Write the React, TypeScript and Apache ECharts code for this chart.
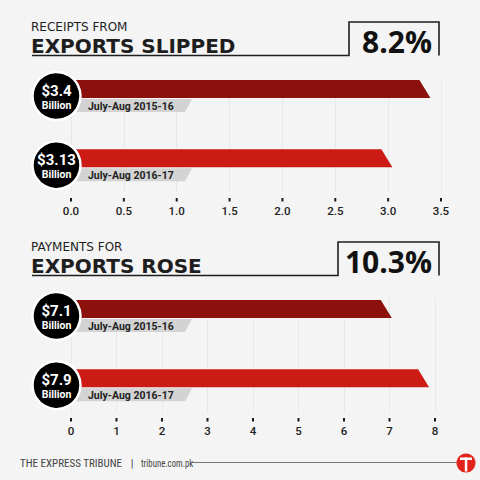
import { useEffect, useRef } from "react";
import * as echarts from "echarts";

// ---- data ----
const periods = ["July-Aug 2015-16", "July-Aug 2016-17"];
const receiptValues = [3.4, 3.04];
const receiptLabels = ["$3.4", "$3.13"];
const paymentValues = [7.05, 7.87];
const paymentLabels = ["$7.1", "$7.9"];
const receiptTicks = ["0.0", "0.5", "1.0", "1.5", "2.0", "2.5", "3.0", "3.5"];
const paymentTicks = ["0", "1", "2", "3", "4", "5", "6", "7", "8"];
const receiptTitle = ["RECEIPTS FROM", "EXPORTS SLIPPED", "8.2%"];
const paymentTitle = ["PAYMENTS FOR", "EXPORTS ROSE", "10.3%"];
const footerParts = ["THE EXPRESS TRIBUNE", "|", "tribune.com.pk"];

const barColors = ["#8c100c", "#cc1b15"];
const DARK = "#1e1e1e";
const BG = "#f4f4f4";
const Y_MIN = -0.16;
const Y_MAX = 1.49;

function makeRender(labels: string[]) {
  return (params: any, api: any) => {
    const i = params.dataIndex;
    const v = api.value(0);
    const idx = api.value(1);
    const s = api.coord([0, idx]);
    const e = api.coord([v, idx]);
    const sx = s[0];
    const cy = s[1];
    const ex = e[0];
    const cx = sx - 14.5;
    return {
      type: "group",
      children: [
        {
          type: "polygon",
          shape: { points: [[sx, cy + 10], [sx + 121, cy + 10], [sx + 114, cy + 23], [sx, cy + 23]] },
          style: { fill: "#d3d3d3" },
        },
        {
          type: "text",
          x: sx + 17,
          y: cy + 17,
          style: {
            text: periods[i],
            fill: "#222",
            font: "bold 10.5px Roboto",
            align: "left",
            verticalAlign: "middle",
          },
        },
        {
          type: "polygon",
          shape: { points: [[sx, cy - 9], [ex - 11, cy - 9], [ex, cy + 9], [sx, cy + 9]] },
          style: { fill: barColors[i] },
        },
        {
          type: "circle",
          shape: { cx, cy: cy + 7, r: 24 },
          style: { fill: "#000", stroke: "#fff", lineWidth: 2.5 },
        },
        {
          type: "text",
          x: cx,
          y: cy + 1.5,
          style: {
            text: labels[i],
            fill: "#fff",
            font: "bold 15px Roboto",
            align: "center",
            verticalAlign: "middle",
          },
        },
        {
          type: "text",
          x: cx,
          y: cy + 16,
          style: {
            text: "Billion",
            fill: "#fff",
            font: "bold 10.5px Roboto",
            align: "center",
            verticalAlign: "middle",
          },
        },
      ],
    };
  };
}

// small tick marks under each axis value, positioned through the axis scale
function tickRender(params: any, api: any) {
  const p = api.coord([api.value(0), Y_MAX]);
  return {
    type: "rect",
    shape: { x: p[0] - 1, y: p[1] + 6, width: 2, height: 3.5 },
    style: { fill: "#1a1a1a" },
  };
}

function header(title: string[], top: number, boxLeft: number) {
  const lineY = top + 33.5;
  return [
    {
      type: "text",
      x: 31,
      y: lineY - 28.5,
      style: { text: title[0], fill: DARK, font: "12px 'DejaVu Sans'", verticalAlign: "middle" },
    },
    {
      type: "text",
      x: 31,
      y: lineY - 10,
      style: { text: title[1], fill: DARK, font: "bold 20px 'DejaVu Sans'", verticalAlign: "middle" },
    },
    {
      type: "polyline",
      shape: {
        points: [[32, lineY], [boxLeft, lineY], [boxLeft, top], [439, top], [439, lineY]],
      },
      style: { stroke: DARK, lineWidth: 1.6, fill: null },
    },
    {
      type: "text",
      x: 432,
      y: top + 19,
      style: {
        text: title[2],
        fill: "#111",
        font: "bold 30px 'Open Sans'",
        align: "right",
        verticalAlign: "middle",
      },
    },
  ];
}

function axisFor(ticks: string[], gridIndex: number, decimals: number) {
  const min = Number(ticks[0]);
  const max = Number(ticks[ticks.length - 1]);
  const interval = Number(ticks[1]) - Number(ticks[0]);
  return {
    type: "value",
    gridIndex,
    position: "bottom",
    min,
    max,
    interval,
    offset: 6,
    axisLine: { show: false, onZero: false },
    axisTick: { show: false },
    axisLabel: {
      margin: 7,
      color: "#222",
      fontFamily: "Roboto",
      fontWeight: 500,
      fontSize: 11.5,
      formatter: (v: number) => v.toFixed(decimals),
    },
    splitLine: { show: true, lineStyle: { color: "#e8e8e8", width: 1 } },
  };
}

export default function App() {
  const ref = useRef<HTMLDivElement>(null);
  useEffect(() => {
    if (!ref.current) return;
    const chart = echarts.init(ref.current, undefined, { renderer: "svg" });
    const footFont = "11px 'Liberation Sans Narrow', 'Roboto Condensed', Roboto";
    chart.setOption({
      animation: false,
      backgroundColor: BG,
      grid: [
        { left: 71, width: 370, top: 78, height: 114 },
        { left: 71, width: 364, top: 298, height: 114 },
      ],
      xAxis: [axisFor(receiptTicks, 0, 1), axisFor(paymentTicks, 1, 0)],
      yAxis: [
        { type: "value", gridIndex: 0, min: Y_MIN, max: Y_MAX, inverse: true, show: false },
        { type: "value", gridIndex: 1, min: Y_MIN, max: Y_MAX, inverse: true, show: false },
      ],
      series: [
        {
          type: "custom",
          xAxisIndex: 0,
          yAxisIndex: 0,
          data: receiptValues.map((v, i) => [v, i]),
          encode: { x: 0, y: 1 },
          renderItem: makeRender(receiptLabels),
        },
        {
          type: "custom",
          xAxisIndex: 1,
          yAxisIndex: 1,
          data: paymentValues.map((v, i) => [v, i]),
          encode: { x: 0, y: 1 },
          renderItem: makeRender(paymentLabels),
        },
        {
          type: "custom",
          xAxisIndex: 0,
          yAxisIndex: 0,
          clip: false,
          silent: true,
          data: receiptTicks.map((t) => [Number(t)]),
          encode: { x: 0 },
          renderItem: tickRender,
        },
        {
          type: "custom",
          xAxisIndex: 1,
          yAxisIndex: 1,
          clip: false,
          silent: true,
          data: paymentTicks.map((t) => [Number(t)]),
          encode: { x: 0 },
          renderItem: tickRender,
        },
      ],
      graphic: [
        ...header(receiptTitle, 22, 349),
        ...header(paymentTitle, 242, 338),
        {
          type: "text",
          x: 20,
          y: 463,
          style: { text: footerParts[0], fill: "#444", font: footFont, verticalAlign: "middle" },
        },
        {
          type: "text",
          x: 132,
          y: 463,
          style: { text: footerParts[1], fill: "#444", font: footFont, align: "center", verticalAlign: "middle" },
        },
        {
          type: "text",
          x: 141,
          y: 463,
          scaleX: 0.8,
          style: { text: footerParts[2], fill: "#444", font: footFont, verticalAlign: "middle" },
        },
        {
          type: "line",
          shape: { x1: 191, y1: 462.5, x2: 470, y2: 462.5 },
          style: { stroke: "#777", lineWidth: 1 },
        },
        {
          type: "circle",
          shape: { cx: 466, cy: 463, r: 9.5 },
          style: { fill: "#e3241d" },
        },
        {
          type: "rect",
          shape: { x: 460, y: 457.5, width: 12, height: 2.5 },
          style: { fill: "#fff" },
        },
        {
          type: "rect",
          shape: { x: 464.8, y: 457.5, width: 2.5, height: 14 },
          style: { fill: "#fff" },
        },
      ],
    });
    return () => chart.dispose();
  }, []);
  return (
    <div
      ref={ref}
      style={{ position: "fixed", left: 0, top: 0, width: 480, height: 480 }}
    />
  );
}
